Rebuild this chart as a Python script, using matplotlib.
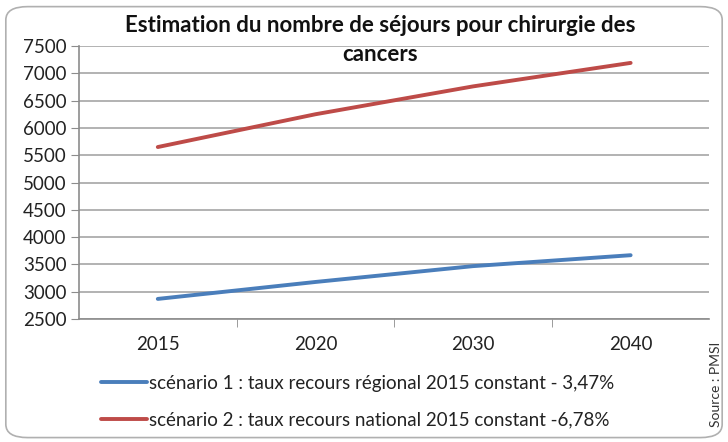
import matplotlib
matplotlib.use("Agg")
import matplotlib.pyplot as plt
from matplotlib.patches import FancyBboxPatch

# Data
years = ["2015", "2020", "2030", "2040"]
scenario1 = [2870, 3180, 3470, 3670]
scenario2 = [5650, 6250, 6760, 7190]
labels = [
    "scénario 1 : taux recours régional 2015 constant - 3,47%",
    "scénario 2 : taux recours national 2015 constant -6,78%",
]
yticks = list(range(2500, 7501, 500))

plt.rcParams['font.family'] = ['Lato', 'DejaVu Sans']

fig = plt.figure(figsize=(7.28, 4.42), dpi=100)
ax = fig.add_axes([0.1085, 0.278, 0.866, 0.618])

x = list(range(len(years)))
ax.plot(x, scenario1, color='#4a7ebb', lw=2.8, solid_capstyle='round', label=labels[0])
ax.plot(x, scenario2, color='#be4b48', lw=2.8, solid_capstyle='round', label=labels[1])

ax.set_xlim(-0.5, len(years) - 0.5)
ax.set_ylim(2500, 7500)
ax.set_yticks(yticks)
ax.set_yticklabels([str(v) for v in yticks], fontsize=13.5, color='#222222')
ax.set_xticks(x)
ax.set_xticklabels(years, fontsize=13.5, color='#222222')
ax.set_xticks([0.5, 1.5, 2.5], minor=True)
ax.tick_params(axis='x', which='major', length=0, pad=12)
ax.tick_params(axis='x', which='minor', length=6, color='#8c8c8c', direction='out')
ax.tick_params(axis='y', length=6, color='#8c8c8c', direction='out', pad=3)

ax.grid(axis='y', color='#a6a6a6', lw=1.2)
ax.set_axisbelow(True)
for side in ['top', 'right']:
    ax.spines[side].set_visible(False)
for side in ['left', 'bottom']:
    ax.spines[side].set_color('#8c8c8c')
    ax.spines[side].set_linewidth(1.2)

fig.text(0.522, 0.942, "Estimation du nombre de séjours pour chirurgie des",
         ha='center', va='center', fontsize=16, fontweight='bold', color='#111111')
fig.text(0.522, 0.876, "cancers", ha='center', va='center',
         fontsize=16, fontweight='bold', color='#111111')

leg = ax.legend(loc='upper left', bbox_to_anchor=(0.115, 0.19),
                bbox_transform=fig.transFigure, frameon=False,
                fontsize=13.5, handlelength=2.5, handletextpad=0.08,
                labelspacing=1.05, labelcolor='#222222')

fig.text(0.984, 0.13, "Source : PMSI", rotation=90, ha='center', va='center',
         fontsize=10, color='#333333')

border = FancyBboxPatch((0.008, 0.01), 0.984, 0.975,
                        boxstyle="round,pad=0,rounding_size=0.03",
                        transform=fig.transFigure, fill=False,
                        edgecolor='#b0b0b0', lw=1.2)
fig.patches.append(border)

fig.savefig("out.png", dpi=100)
